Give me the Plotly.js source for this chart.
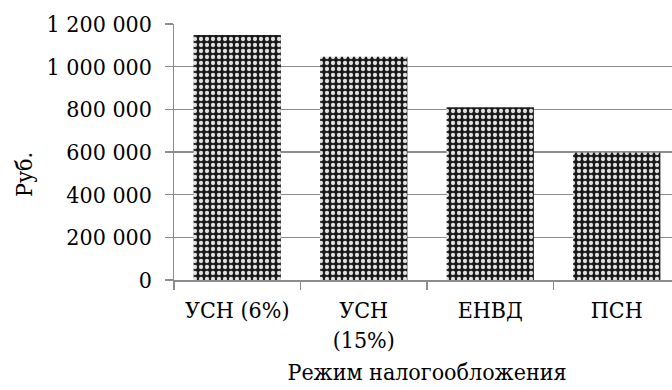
<!DOCTYPE html>
<html>
<head>
<meta charset="utf-8">
<script src="https://cdn.plot.ly/plotly-3.0.1.min.js"></script>
<style>
  html, body { margin: 0; padding: 0; background: #ffffff; overflow: hidden; }
  #chart { width: 680px; height: 390px; }
</style>
</head>
<body>
<div id="chart"></div>
<script>
// Tax regimes and annual tax burden, rubles
const regimes = ['УСН (6%)', 'УСН<br>(15%)', 'ЕНВД', 'ПСН'];
const taxRub = [1148000, 1046000, 810000, 596000];
const yTicks = [0, 200000, 400000, 600000, 800000, 1000000, 1200000];

const serif = '"DejaVu Serif Condensed", "DejaVu Serif", serif';
const fs = 23;

const trace = {
  type: 'bar',
  x: regimes,
  y: taxRub,
  marker: {
    color: '#1a1a1a',
    line: { width: 0 },
    pattern: {
      shape: '.',
      bgcolor: '#1a1a1a',
      fgcolor: '#e0e0e0',
      fillmode: 'replace',
      size: 6,
      solidity: 0.4
    }
  },
  hoverinfo: 'none'
};

const layout = {
  width: 680,
  height: 390,
  margin: { l: 174, r: 0, t: 24, b: 110 },
  paper_bgcolor: '#ffffff',
  plot_bgcolor: '#ffffff',
  separators: ', ',
  showlegend: false,
  bargap: 0.31,
  font: { family: serif, size: fs, color: '#000000' },
  xaxis: {
    type: 'category',
    showline: true,
    linecolor: '#8c8c8c',
    linewidth: 1.5,
    ticks: 'outside',
    tickson: 'boundaries',
    ticklen: 8,
    tickwidth: 1.5,
    tickcolor: '#8c8c8c',
    showgrid: false,
    ticklabelstandoff: 9,
    tickfont: { family: serif, size: fs, color: '#000000' },
    title: {
      text: 'Режим налогообложения',
      font: { family: serif, size: fs, color: '#000000' },
      standoff: 12
    }
  },
  yaxis: {
    range: [0, 1200000],
    tickvals: yTicks,
    tickformat: ',d',
    showline: true,
    linecolor: '#8c8c8c',
    linewidth: 1.5,
    ticks: 'outside',
    ticklen: 8,
    tickwidth: 1.5,
    tickcolor: '#8c8c8c',
    showgrid: true,
    gridcolor: '#8c8c8c',
    gridwidth: 1.5,
    zeroline: false,
    ticklabelstandoff: 8,
    tickfont: { family: serif, size: fs, color: '#000000' }
  },
  annotations: [{
    text: 'Руб.',
    textangle: -90,
    xref: 'paper', yref: 'paper',
    x: 0, y: 0.41,
    xshift: -150,
    xanchor: 'center', yanchor: 'middle',
    showarrow: false,
    font: { family: serif, size: fs, color: '#000000' }
  }]
};

Plotly.newPlot('chart', [trace], layout, { staticPlot: true, displayModeBar: false });
</script>
</body>
</html>
